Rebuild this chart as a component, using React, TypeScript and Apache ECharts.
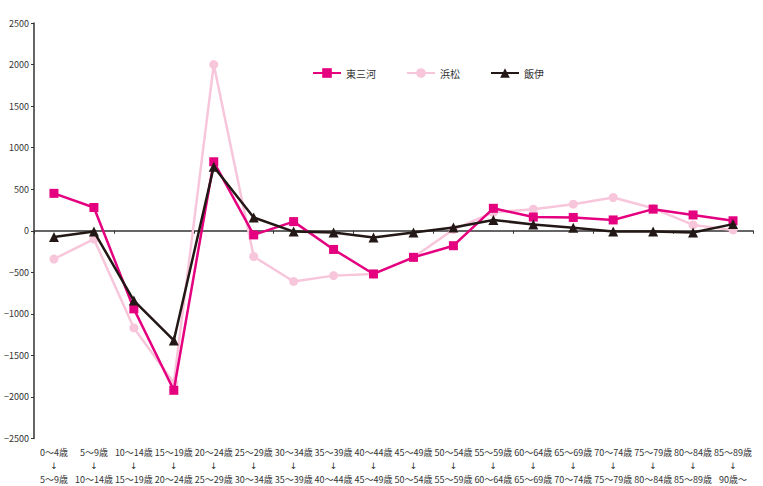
import React, { useEffect, useRef } from "react";
import * as echarts from "echarts";

const categories = [
  "0～4歳\n↓\n5～9歳", "5～9歳\n↓\n10～14歳", "10～14歳\n↓\n15～19歳", "15～19歳\n↓\n20～24歳",
  "20～24歳\n↓\n25～29歳", "25～29歳\n↓\n30～34歳", "30～34歳\n↓\n35～39歳", "35～39歳\n↓\n40～44歳",
  "40～44歳\n↓\n45～49歳", "45～49歳\n↓\n50～54歳", "50～54歳\n↓\n55～59歳", "55～59歳\n↓\n60～64歳",
  "60～64歳\n↓\n65～69歳", "65～69歳\n↓\n70～74歳", "70～74歳\n↓\n75～79歳", "75～79歳\n↓\n80～84歳",
  "80～84歳\n↓\n85～89歳", "85～89歳\n↓\n90歳～",
];
const higashiMikawa = [450, 280, -940, -1920, 830, -50, 110, -225, -520, -320, -180, 270, 165, 160, 130, 260, 190, 120];
const hamamatsu = [-340, -100, -1170, -1830, 2000, -310, -610, -540, -520, -320, 15, 220, 260, 320, 400, 270, 70, 10];
const iiina = [-75, -10, -840, -1320, 770, 160, -10, -20, -80, -20, 40, 130, 75, 35, -10, -10, -20, 80];

const FONT = "'Liberation Sans Narrow', 'Noto Sans CJK JP', sans-serif";

export default function App() {
  const ref = useRef<HTMLDivElement>(null);
  useEffect(() => {
    const chart = echarts.init(ref.current!, null, { renderer: "svg" });
    chart.setOption({
      animation: false,
      backgroundColor: "#fff",
      textStyle: { fontFamily: FONT },
      grid: { left: 34, right: 10, top: 23, bottom: 46, containLabel: false },
      legend: {
        left: 307,
        top: 63,
        itemWidth: 28,
        itemHeight: 12,
        itemGap: 30,
        data: ["東三河", "浜松", "飯伊"],
        textStyle: { fontFamily: FONT, fontSize: 10, color: "#333" },
      },
      xAxis: [
        {
          type: "category",
          data: categories,
          boundaryGap: true,
          axisLine: { onZero: true, lineStyle: { color: "#333", width: 1.5 } },
          axisTick: { show: true, length: 3, lineStyle: { color: "#333" } },
          axisLabel: { show: false },
        },
        {
          type: "category",
          data: categories,
          position: "bottom",
          boundaryGap: true,
          axisLine: { show: false, onZero: false },
          axisTick: { show: false },
          axisLabel: {
            interval: 0,
            margin: 7,
            fontSize: 9,
            lineHeight: 13.5,
            color: "#333",
            fontFamily: FONT,
            formatter: (v: string) => v.replace("↓", "{a|↓}"),
            rich: {
              a: { fontFamily: "'DejaVu Sans'", fontSize: 9, color: "#333", lineHeight: 13.5 },
            },
          },
        },
      ],
      yAxis: {
        type: "value",
        min: -2500,
        max: 2500,
        interval: 500,
        splitLine: { show: false },
        axisLine: { show: true, lineStyle: { color: "#333", width: 1.5 } },
        axisTick: { show: true, length: 3, lineStyle: { color: "#333" } },
        axisLabel: {
          fontSize: 9,
          color: "#333",
          margin: 5,
          fontFamily: FONT,
          formatter: (v: number) => String(v).replace("-", "−"),
        },
      },
      series: [
        {
          name: "東三河",
          type: "line",
          data: higashiMikawa,
          z: 3,
          symbol: "rect",
          symbolSize: 9,
          lineStyle: { color: "#e4007f", width: 2.5 },
          itemStyle: { color: "#e4007f" },
        },
        {
          name: "浜松",
          type: "line",
          data: hamamatsu,
          z: 2,
          symbol: "circle",
          symbolSize: 9,
          lineStyle: { color: "#f8c6da", width: 2.5 },
          itemStyle: { color: "#f8c6da" },
        },
        {
          name: "飯伊",
          type: "line",
          data: iiina,
          z: 4,
          symbol: "triangle",
          symbolSize: 10,
          lineStyle: { color: "#231815", width: 2.5 },
          itemStyle: { color: "#231815" },
        },
      ],
    });
    return () => chart.dispose();
  }, []);
  return <div ref={ref} style={{ width: 763, height: 486, position: "absolute", left: 0, top: 0 }} />;
}
